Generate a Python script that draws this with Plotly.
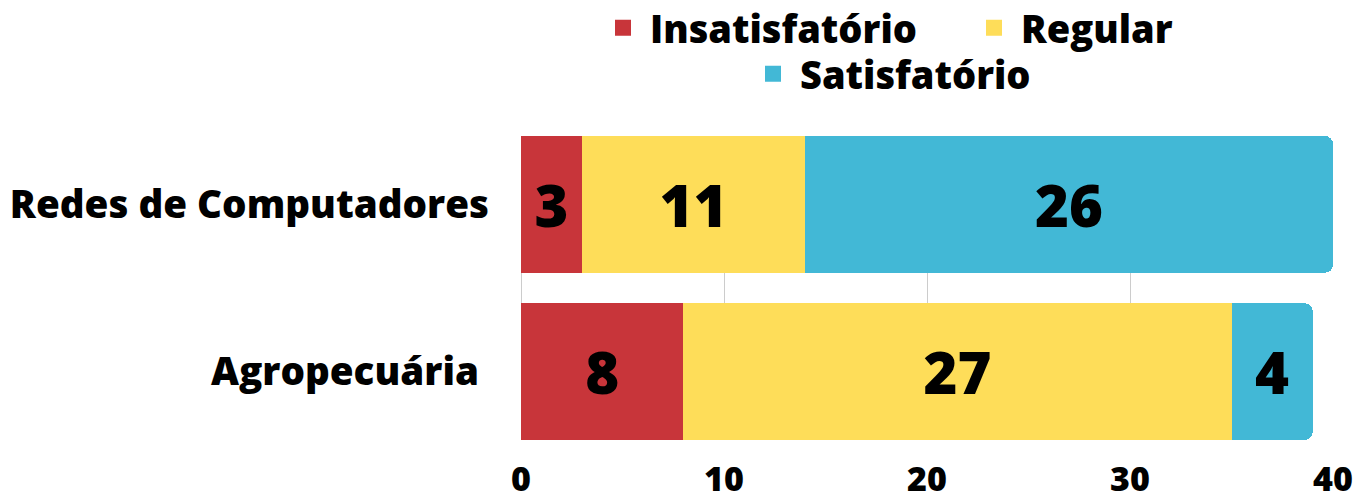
import plotly.graph_objects as go

categories = ["Redes de Computadores", "Agropecuária\u00a0"]
series_names = ["Insatisfatório", "Regular", "Satisfatório"]
insatisfatorio = [3, 8]
regular = [11, 27]
satisfatorio = [26, 4]
x_ticks = [0, 10, 20, 30, 40]

colors = ["#C8353A", "#FEDD59", "#42B8D6"]
values = [insatisfatorio, regular, satisfatorio]

FONT = "Open Sans"
W, H = 1358, 497

fig = go.Figure()
for name, vals, col in zip(series_names, values, colors):
    fig.add_trace(go.Bar(
        y=categories, x=vals, name=name, orientation="h",
        marker=dict(color=col, line=dict(width=0)),
        text=[str(v) for v in vals], textposition="inside",
        insidetextanchor="middle", textangle=0,
        textfont=dict(family=FONT, size=58, color="black", weight=800),
        showlegend=False, hoverinfo="x+name",
    ))

# legend proxies (two rows)
for i, (name, col) in enumerate(zip(series_names, colors)):
    fig.add_trace(go.Scatter(
        x=[None], y=[None], mode="markers", name=name,
        marker=dict(symbol="square", size=16, color=col),
        legend="legend" if i < 2 else "legend2", showlegend=True,
    ))

legend_font = dict(family=FONT, size=38, color="black", weight=800)
fig.update_layout(
    width=W, height=H,
    margin=dict(l=521, r=25, t=136, b=57, autoexpand=False),
    paper_bgcolor="white", plot_bgcolor="white",
    barmode="stack", bargap=0.182, barcornerradius=8,
    legend=dict(orientation="h", xref="container", yref="container",
                x=596 / W, xanchor="left", y=1 - 28 / H, yanchor="middle",
                font=legend_font, itemwidth=44, entrywidth=312,
                bgcolor="rgba(0,0,0,0)", traceorder="normal"),
    legend2=dict(orientation="h", xref="container", yref="container",
                 x=746 / W, xanchor="left", y=1 - 74 / H, yanchor="middle",
                 font=legend_font, itemwidth=44,
                 bgcolor="rgba(0,0,0,0)"),
    xaxis=dict(range=[0, 40], tickvals=x_ticks, ticktext=[str(t) for t in x_ticks],
               automargin=False,
               showgrid=True, gridcolor="#CCCCCC", gridwidth=1,
               zeroline=True, zerolinecolor="#CCCCCC", zerolinewidth=1,
               showline=False, ticks="", ticklabelstandoff=16,
               tickfont=dict(family=FONT, size=34, color="black", weight=800)),
    yaxis=dict(autorange=False, range=[1.409, -0.409], type="category",
               automargin=False,
               showgrid=False, zeroline=False, showline=False, ticks="",
               ticklabelstandoff=31,
               tickfont=dict(family=FONT, size=38.6, color="black", weight=800)),
    hovermode="closest",
)

fig.write_html("out.html",
               config={"displayModeBar": False},
               post_script="document.body.style.margin='0';document.body.style.overflow='hidden';")
